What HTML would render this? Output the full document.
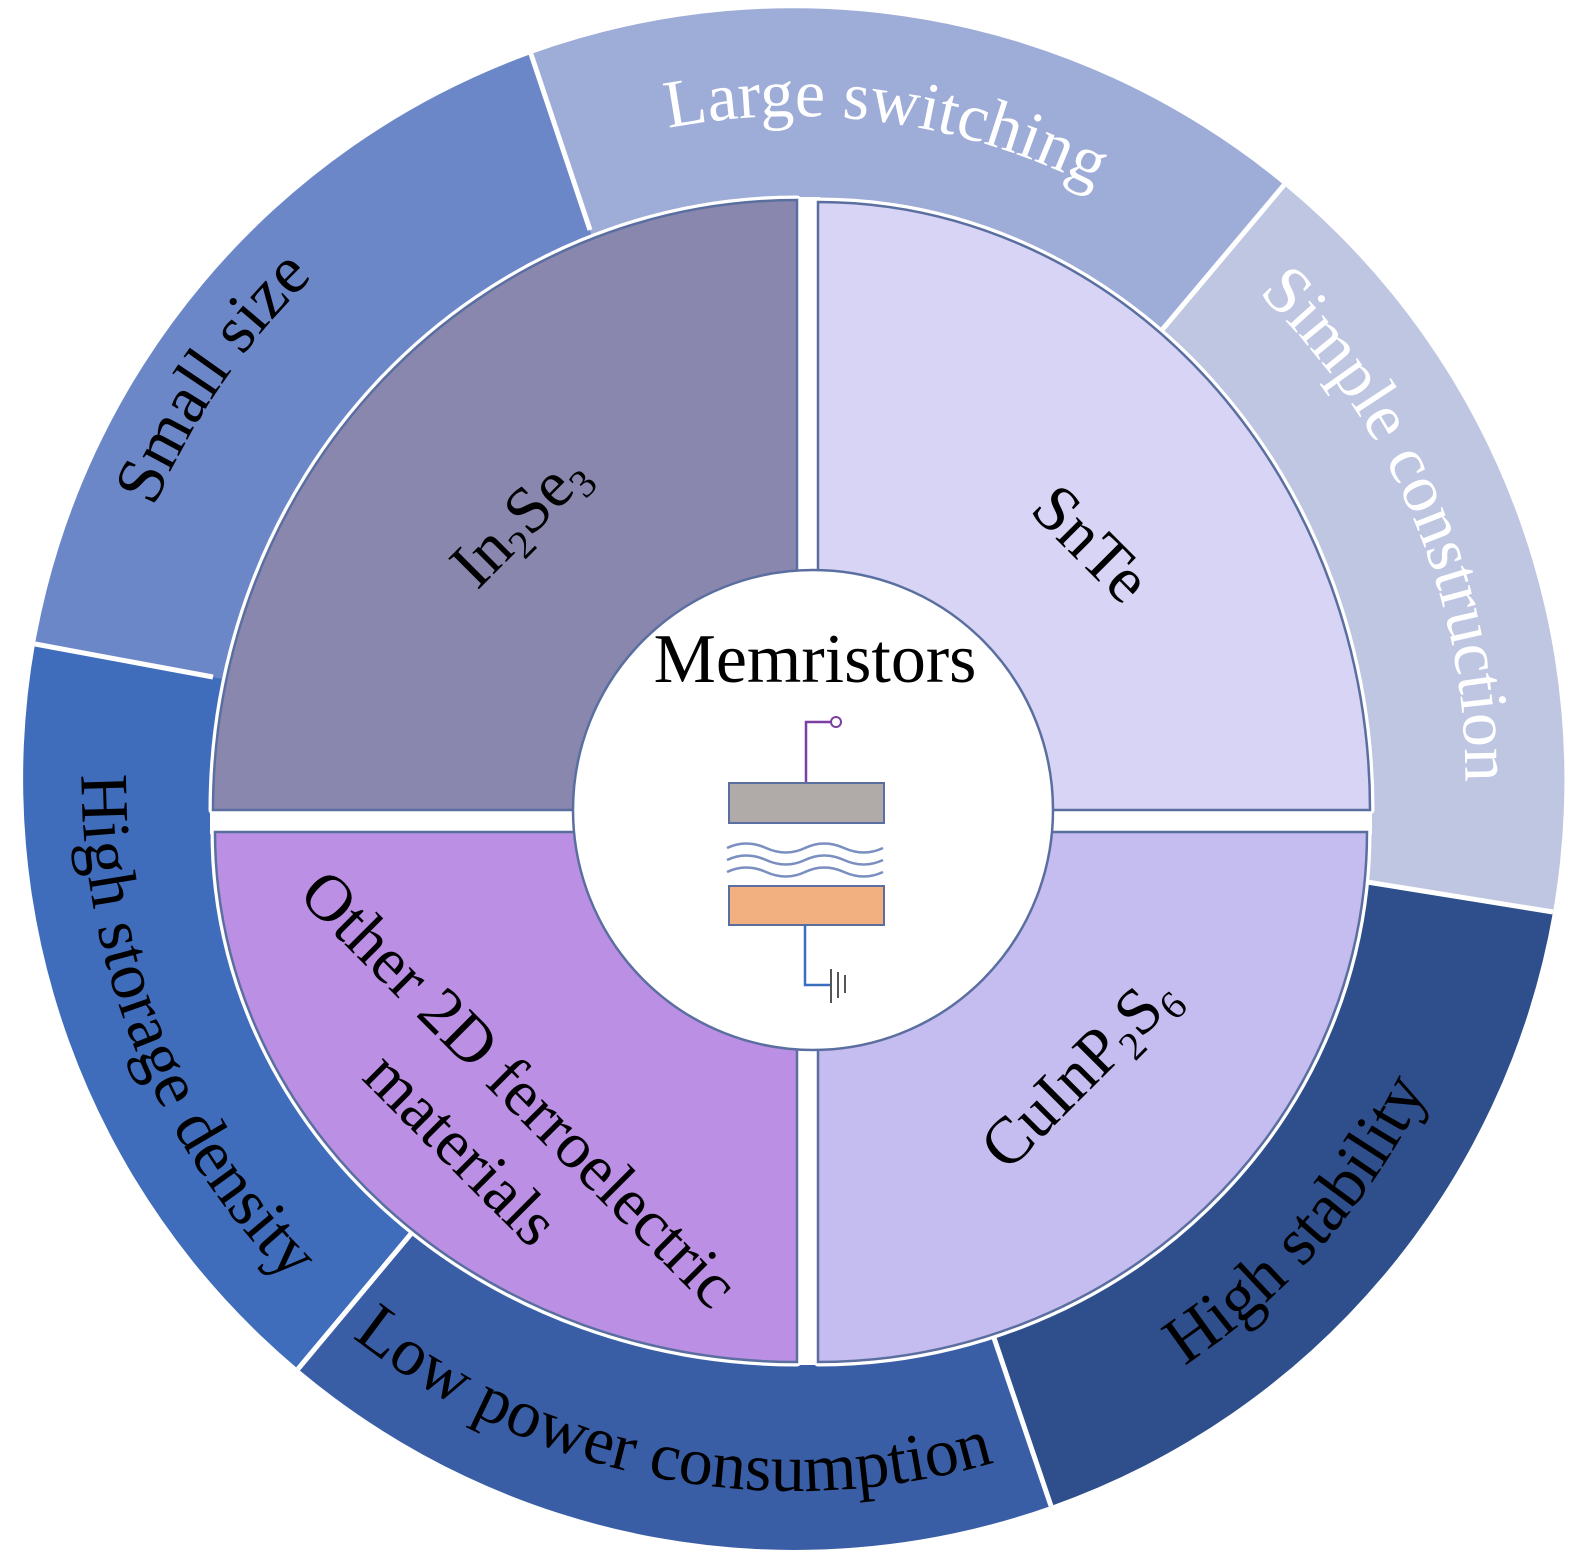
<!DOCTYPE html>
<html><head><meta charset="utf-8"><style>
html,body{margin:0;padding:0;background:#fff;width:1583px;height:1559px;overflow:hidden;}
svg{display:block;}
text{font-family:"Liberation Serif",serif;}
</style></head><body>
<svg width="1583" height="1559" viewBox="0 0 1583 1559" xmlns="http://www.w3.org/2000/svg">
<defs>
<path id="p1" d="M102,844 A695,695 0 0 1 609,109"/>
<path id="p2" d="M443,217 A663,663 0 0 1 1287,335"/>
<path id="p3" d="M1099,180 A672,672 0 0 1 1436,975"/>
<path id="p4" d="M898,1476 A705,705 0 0 0 1499,791"/>
<path id="p5" d="M241,1227 A712,712 0 0 0 1139,1402"/>
<path id="p6" d="M115,563 A712,712 0 0 0 463,1409"/>
</defs>
<path d="M794,779 L213,677 L35,644 A771,771 0 0 1 531,54 L590,230 Z" fill="#6c87c8"/>
<path d="M794,779 L590,230 L531,54 A771,771 0 0 1 1284,185 L1162,330 Z" fill="#9eacd8"/>
<path d="M794,779 L1162,330 L1284,185 A771,771 0 0 1 1553,912 L1367,882 Z" fill="#bec6e2"/>
<path d="M794,779 L1367,882 L1553,912 A771,771 0 0 1 1051,1506 L992,1332 Z" fill="#2e4f8c"/>
<path d="M794,779 L992,1332 L1051,1506 A771,771 0 0 1 298,1369 L415,1229 Z" fill="#3a5ea6"/>
<path d="M794,779 L415,1229 L298,1369 A771,771 0 0 1 35,644 L213,677 Z" fill="#3f6dbb"/>
<g stroke="#fff" stroke-width="5">
<line x1="590" y1="230" x2="531" y2="54"/>
<line x1="1162" y1="330" x2="1284" y2="185"/>
<line x1="1367" y1="882" x2="1553" y2="912"/>
<line x1="992" y1="1332" x2="1051" y2="1506"/>
<line x1="415" y1="1229" x2="298" y2="1369"/>
<line x1="213" y1="677" x2="35" y2="644"/>
</g>
<g fill="#fff" stroke="#fff" stroke-width="9" stroke-linejoin="round">
<path d="M797,810 L213,810 A584,610 0 0 1 797,200 Z"/>
<path d="M818,810 L818,202 A552,608 0 0 1 1370,810 Z"/>
<path d="M797,832 L797,1362 A582,530 0 0 1 215,832 Z"/>
<path d="M818,832 L1367,832 A549,530 0 0 1 818,1362 Z"/>
</g>
<rect x="795" y="197" width="25" height="1168" fill="#fff"/>
<rect x="210" y="808" width="1162" height="26" fill="#fff"/>
<g stroke="#5a6fa0" stroke-width="2.5">
<path d="M797,810 L213,810 A584,610 0 0 1 797,200 Z" fill="#8987ae"/>
<path d="M818,810 L818,202 A552,608 0 0 1 1370,810 Z" fill="#d8d4f5"/>
<path d="M797,832 L797,1362 A582,530 0 0 1 215,832 Z" fill="#bb90e4"/>
<path d="M818,832 L1367,832 A549,530 0 0 1 818,1362 Z" fill="#c5bcef"/>
</g>
<circle cx="813" cy="810" r="240" fill="#fff" stroke="#5a6fa0" stroke-width="2.5"/>

<g font-size="68" fill="#000">
<text><textPath href="#p1" startOffset="50%" text-anchor="middle">Small size</textPath></text>
<text><textPath href="#p4" startOffset="50%" text-anchor="middle">High stability</textPath></text>
<text><textPath href="#p5" startOffset="50%" text-anchor="middle">Low power consumption</textPath></text>
<text><textPath href="#p6" startOffset="50%" text-anchor="middle">High storage density</textPath></text>
</g>
<g font-size="68" fill="#fff">
<text><textPath href="#p2" startOffset="50%" text-anchor="middle">Large switching</textPath></text>
<text><textPath href="#p3" startOffset="50%" text-anchor="middle">Simple construction</textPath></text>
</g>

<g font-size="66" fill="#000" text-anchor="middle">
<text transform="translate(534,534) rotate(-45)">In<tspan font-size="40" dy="12">2</tspan><tspan dy="-12">Se</tspan><tspan font-size="40" dy="12">3</tspan></text>
<text transform="translate(1076,559) rotate(45)">SnTe</text>
<text transform="translate(1094,1086) rotate(-45)">CuInP<tspan font-size="40" dy="12">2</tspan><tspan dy="-12">S</tspan><tspan font-size="40" dy="12">6</tspan></text>
<text transform="translate(504,1104) rotate(45)">Other 2D ferroelectric</text>
<text transform="translate(446,1164) rotate(45)">materials</text>
<text x="815" y="682" font-size="70">Memristors</text>
</g>

<polyline points="806,783 806,722 830,722" fill="none" stroke="#7a3fa0" stroke-width="2.5"/>
<circle cx="836" cy="722" r="5" fill="#fff" stroke="#7a3fa0" stroke-width="2"/>
<rect x="729" y="783" width="155" height="40" fill="#b0aaa8" stroke="#5a6fa0" stroke-width="2"/>
<g fill="none" stroke="#7a8fc0" stroke-width="2.5">
<path d="M727,848 q19,-9 39,0 t39,0 t39,0 t39,0"/>
<path d="M727,860 q19,-9 39,0 t39,0 t39,0 t39,0"/>
<path d="M727,872 q19,-9 39,0 t39,0 t39,0 t39,0"/>
</g>
<rect x="729" y="886" width="155" height="39" fill="#f2b080" stroke="#5a6fa0" stroke-width="2"/>
<polyline points="805,925 805,985 830,985" fill="none" stroke="#3a6ec0" stroke-width="2.5"/>
<g stroke="#555" stroke-width="2">
<line x1="831" y1="969" x2="831" y2="1003"/>
<line x1="838" y1="972" x2="838" y2="998"/>
<line x1="845" y1="975" x2="845" y2="993"/>
</g>
</svg>
</body></html>
